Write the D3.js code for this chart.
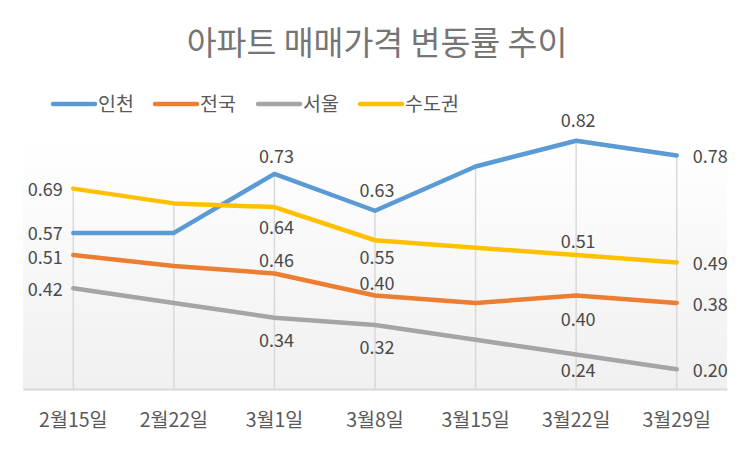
<!DOCTYPE html>
<html><head><meta charset="utf-8">
<script src="https://cdn.jsdelivr.net/npm/d3@7/dist/d3.min.js"></script>
<style>
html,body{margin:0;padding:0;background:#fff;}
svg{display:block;font-family:"Noto Sans CJK KR","Noto Sans",sans-serif;}
</style></head>
<body><svg id="c" width="750" height="449"></svg>
<script>
const title = "아파트 매매가격 변동률 추이";
const categories = ["2월15일","2월22일","3월1일","3월8일","3월15일","3월22일","3월29일"];
const seriesNames = ["인천","전국","서울","수도권"];
const incheon = [0.57, 0.57, 0.73, 0.63, 0.75, 0.82, 0.78];
const national = [0.51, 0.48, 0.46, 0.40, 0.38, 0.40, 0.38];
const seoul = [0.42, 0.38, 0.34, 0.32, 0.28, 0.24, 0.20];
const capital = [0.69, 0.65, 0.64, 0.55, 0.53, 0.51, 0.49];
const seriesValues = [incheon, national, seoul, capital];
const colors = ["#5B9BD5","#ED7D31","#A5A5A5","#FFC000"];
// data-label placement (null = no label) and vertical gap from the point
const labelPlacement = [
  ["left", null, "above", "above", null, "above", "right"],
  ["left", null, "above", "above", null, "below", "right"],
  ["left", null, "below", "below", null, "below", "right"],
  ["left", null, "below", "below", null, "above", "right"]
];
const labelGap = [
  [1, 0, 17, 20, 0, 20, 1],
  [3, 0, 13, 12, 0, 24, 1.5],
  [1.5, 0, 23, 23, 0, 16, 1],
  [1.5, 0, 21, 17, 0, 13, 1]
];

const svg = d3.select("#c");
const plot = {left:23, right:727, top:141.7, bottom:389};

const defs = svg.append("defs");
const grad = defs.append("linearGradient").attr("id","bg").attr("x1",0).attr("y1",0).attr("x2",0).attr("y2",1);
grad.append("stop").attr("offset","0%").attr("stop-color","#ffffff");
grad.append("stop").attr("offset","100%").attr("stop-color","#f0f0f0");

svg.append("rect").attr("x",plot.left).attr("y",plot.top)
  .attr("width",plot.right-plot.left).attr("height",plot.bottom-plot.top)
  .attr("fill","url(#bg)");

const x = d3.scaleBand().domain(categories).range([plot.left, plot.right]);
const y = d3.scaleLinear().domain([0.1466, 0.8173]).range([plot.bottom, plot.top]);
const cx = c => x(c) + x.bandwidth()/2;

// drop lines
categories.forEach((c,i) => {
  const maxV = d3.max(seriesValues, s => s[i]);
  svg.append("line").attr("x1",cx(c)).attr("x2",cx(c))
    .attr("y1",y(maxV)).attr("y2",plot.bottom)
    .attr("stroke","#d9d9d9").attr("stroke-width",1.5);
});

// axis
const axis = d3.axisBottom(x).tickSize(0).tickPadding(0);
const gAxis = svg.append("g").attr("transform",`translate(0,${plot.bottom})`).call(axis);
gAxis.select(".domain").attr("stroke","#d9d9d9").attr("stroke-width",2);
gAxis.selectAll("text").attr("y",31).attr("dy","0.35em")
  .attr("font-size",19.5).attr("fill","#595959")
  .attr("font-family","'Noto Sans CJK KR', sans-serif");

// lines
const line = d3.line().x((d,i)=>cx(categories[i])).y(d=>y(d));
seriesValues.forEach((vals,k) => {
  svg.append("path").datum(vals).attr("d",line)
    .attr("fill","none").attr("stroke",colors[k]).attr("stroke-width",4.5)
    .attr("stroke-linejoin","round").attr("stroke-linecap","round");
});

// labels
seriesValues.forEach((vals,k) => {
  vals.forEach((v,i) => {
    const p = labelPlacement[k][i];
    if (!p) return;
    const g = labelGap[k][i];
    const px = cx(categories[i]), py = y(v);
    let tx = px, ty = py, anchor = "middle";
    if (p === "left") { tx = px - 10.5; ty = py + g; anchor = "end"; }
    else if (p === "right") { tx = px + 16; ty = py + g; anchor = "start"; }
    else if (p === "above") { tx = px + 2; ty = py - g; }
    else if (p === "below") { tx = px + 2; ty = py + g; }
    svg.append("text").attr("x",tx).attr("y",ty).attr("dy","0.35em")
      .attr("text-anchor",anchor).attr("font-size",18).attr("fill","#4a4a4a")
      .text(d3.format(".2f")(v));
  });
});

// title
svg.append("text").attr("x",377).attr("y",44).attr("dy","0.35em")
  .attr("text-anchor","middle").attr("font-size",32.5).attr("fill","#757575")
  .text(title);

// legend
const legendX = [53, 155, 258, 360];
seriesNames.forEach((n,k) => {
  const g = svg.append("g").attr("transform",`translate(${legendX[k]},104)`);
  g.append("line").attr("x1",0).attr("x2",42).attr("y1",0).attr("y2",0)
    .attr("stroke",colors[k]).attr("stroke-width",4.5).attr("stroke-linecap","round");
  g.append("text").attr("x",45).attr("y",0).attr("dy","0.35em")
    .attr("font-size",19.5).attr("fill","#595959").text(n);
});
</script></body></html>
